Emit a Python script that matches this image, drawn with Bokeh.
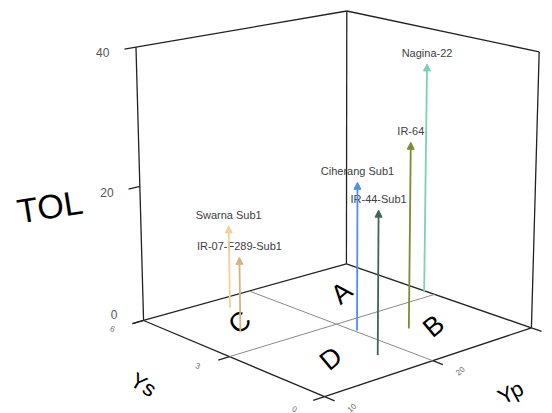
import numpy as np
from bokeh.plotting import figure
from bokeh.models import Range1d, ColumnDataSource, Arrow, NormalHead
from bokeh.embed import file_html
from bokeh.resources import INLINE
from bokeh.core.properties import value

# ---------------- data ----------------
genotypes = ["Swarna Sub1", "IR-07-F289-Sub1", "Ciherang Sub1", "IR-44-Sub1", "IR-64", "Nagina-22"]
ys_vals = [5.4, 4.0, 2.4, 1.0, 1.75, 3.25]
yp_vals = [16.5, 13.7, 20.2, 17.9, 23.3, 29.7]
tol_vals = [12.5, 11.1, 21.8, 20.7, 27.3, 34.9]
colors = ["#F2D09A", "#D2B483", "#4F8EF2", "#3D6655", "#7F8A30", "#78D3B4"]

ys_lim = [0, 6]
yp_lim = [10, 30]
tol_lim = [0, 40]
ys_ticks = [0, 3, 6]
yp_ticks = [10, 20, 30]
tol_ticks = [0, 20, 40]

quadrants = ["A", "B", "C", "D"]
quad_ys = [4.5, 1.5, 4.5, 1.5]
quad_yp = [25, 25, 15, 15]

# ---------------- view (perspective box) ----------------
THETA = np.radians(41.8)
PHI = np.radians(16.0)
DIST = 14.5
ZS = 1.02
K = 140.0
CX, CY = 336.0, 189.0

st, ct = np.sin(THETA), np.cos(THETA)
sp, cp = np.sin(PHI), np.cos(PHI)


def project(ys, yp, tol):
    ys = np.asarray(ys, float); yp = np.asarray(yp, float); tol = np.asarray(tol, float)
    X = (yp - (yp_lim[0] + yp_lim[1]) / 2) / ((yp_lim[1] - yp_lim[0]) / 2)
    Y = (ys - (ys_lim[0] + ys_lim[1]) / 2) / ((ys_lim[1] - ys_lim[0]) / 2)
    Z = (tol - (tol_lim[0] + tol_lim[1]) / 2) / ((tol_lim[1] - tol_lim[0]) / 2) * ZS
    sx = X * ct - Y * st
    sy = (X * st + Y * ct) * sp + Z * cp
    t = -(X * st + Y * ct) * cp + Z * sp
    f = DIST / (DIST - t)
    return CX + K * f * sx, CY - K * f * sy


def seg(p, a, b, **kw):
    x0, y0 = project(*a)
    x1, y1 = project(*b)
    p.line([float(x0), float(x1)], [float(y0), float(y1)], **kw)


W, H = 552, 413
p = figure(width=W, height=H, x_range=Range1d(0, W), y_range=Range1d(H, 0),
           output_backend="svg", toolbar_location=None, min_border=0,
           x_axis_location=None, y_axis_location=None)
p.xgrid.visible = False
p.ygrid.visible = False
p.outline_line_color = None
p.background_fill_color = "white"

y0s, y1s = ys_lim
p0s, p1s = yp_lim
t0s, t1s = tol_lim
box = dict(line_color="#222222", line_width=1.3)

# floor
seg(p, (y0s, p0s, t0s), (y1s, p0s, t0s), **box)
seg(p, (y0s, p0s, t0s), (y0s, p1s, t0s), **box)
seg(p, (y1s, p0s, t0s), (y1s, p1s, t0s), **box)
seg(p, (y0s, p1s, t0s), (y1s, p1s, t0s), **box)
# back verticals
seg(p, (y1s, p0s, t0s), (y1s, p0s, t1s), **box)
seg(p, (y1s, p1s, t0s), (y1s, p1s, t1s), **box)
seg(p, (y0s, p1s, t0s), (y0s, p1s, t1s), **box)
# top back edges
seg(p, (y1s, p0s, t1s), (y1s, p1s, t1s), **box)
seg(p, (y1s, p1s, t1s), (y0s, p1s, t1s), **box)

# quadrant divider lines
grey = dict(line_color="#8a8a8a", line_width=1)
mid_ys = ys_ticks[1]
mid_yp = yp_ticks[1]
seg(p, (mid_ys, p0s, t0s), (mid_ys, p1s, t0s), **grey)
seg(p, (y0s, mid_yp, t0s), (y1s, mid_yp, t0s), **grey)

# ticks
dyp = (p1s - p0s) / 2 * 0.1
dys = (y1s - y0s) / 2 * 0.1
for v in ys_ticks:
    seg(p, (v, p0s, t0s), (v, p0s - dyp, t0s), **box)
for v in yp_ticks:
    seg(p, (y0s, v, t0s), (y0s - dys, v, t0s), **box)
for v in tol_ticks:
    seg(p, (y1s, p0s, v), (y1s, p0s - dyp, v), **box)

lab_font = value("Liberation Sans")
# tick labels
tx, ty = project(ys_ticks, [p0s - dyp * 2.8] * 3, [t0s] * 3)
p.text(tx, ty, text=[str(v) for v in ys_ticks], text_font=lab_font, text_font_size="8px",
       text_color="#666666", text_align="center", text_baseline="middle", angle=-20, angle_units="deg",
       x_offset=[2, 0, 0], y_offset=[2, 0, 0])
tx, ty = project([y0s - dys * 2.7] * 3, yp_ticks, [t0s] * 3)
p.text(tx, ty, text=[str(v) for v in yp_ticks], text_font=lab_font, text_font_size="8px",
       text_color="#666666", text_align="center", text_baseline="middle", angle=40, angle_units="deg")
tx, ty = project([y1s] * 3, [p0s - dyp] * 3, tol_ticks)
p.text(tx, ty, text=[str(v) for v in tol_ticks], text_font=lab_font, text_font_size="12px",
       text_color="#555555", text_align="right", text_baseline="middle",
       x_offset=-15, y_offset=[-9, 3, 3])

# axis titles
ax, ay = project([y1s], [p0s], [(t0s + t1s) / 2])
p.text(ax, ay, text=["TOL"], text_font=lab_font, text_font_size="34px", text_color="black",
       text_align="center", text_baseline="middle", x_offset=-90, y_offset=20, angle=9, angle_units="deg")
ax, ay = project([(y0s + y1s) / 2], [p0s], [t0s])
p.text(ax, ay, text=["Ys"], text_font=lab_font, text_font_size="22px", text_color="black",
       text_align="center", text_baseline="middle", x_offset=-86, y_offset=28, angle=-32, angle_units="deg")
ax, ay = project([y0s], [(p0s + p1s) / 2], [t0s])
p.text(ax, ay, text=["Yp"], text_font=lab_font, text_font_size="22px", text_color="black",
       text_align="center", text_baseline="middle", x_offset=78, y_offset=32, angle=28, angle_units="deg")

# quadrant letters on the floor
qx, qy = project(quad_ys, quad_yp, [t0s] * 4)
p.text(qx, qy, text=quadrants, text_font=lab_font, text_font_size="27px", text_color="black",
       text_align="center", text_baseline="middle", angle=40, angle_units="deg")

# arrows
bx, by = project(ys_vals, yp_vals, [t0s] * len(tol_vals))
ex, ey = project(ys_vals, yp_vals, tol_vals)
for i in range(len(genotypes)):
    p.add_layout(Arrow(x_start=float(bx[i]), y_start=float(by[i]), x_end=float(ex[i]), y_end=float(ey[i]),
                       line_color=colors[i], line_width=1.8,
                       end=NormalHead(size=7, fill_color=colors[i], line_color=colors[i], line_width=1)))

src = ColumnDataSource(dict(x=ex, y=ey, name=genotypes))
p.text("x", "y", text="name", source=src, text_font=lab_font, text_font_size="11px",
       text_color="#404040", text_align="center", text_baseline="bottom", y_offset=-5)

open("out.html", "w").write(file_html(p, INLINE))
